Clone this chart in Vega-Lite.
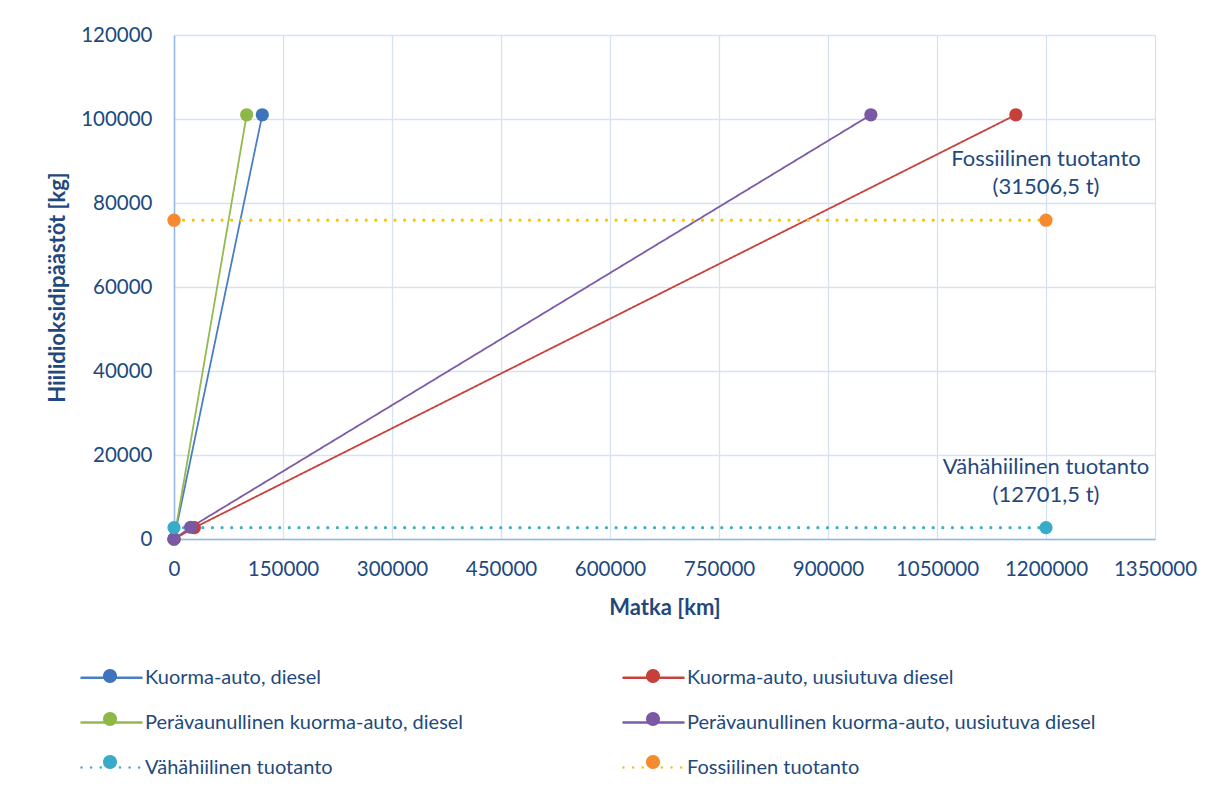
{
  "$schema": "https://vega.github.io/schema/vega-lite/v6.json",
  "width": 981,
  "height": 504,
  "autosize": "none",
  "padding": {"left": 174, "top": 35, "right": 76, "bottom": 257},
  "background": "white",
  "config": {
    "font": "Lato",
    "view": {"stroke": null}
  },
  "datasets": {
    "series": [
      {"series": "Kuorma-auto, diesel", "km": 0, "kg": 0},
      {"series": "Kuorma-auto, diesel", "km": 121500, "kg": 101000},
      {"series": "Kuorma-auto, uusiutuva diesel", "km": 0, "kg": 0},
      {"series": "Kuorma-auto, uusiutuva diesel", "km": 28000, "kg": 2700},
      {"series": "Kuorma-auto, uusiutuva diesel", "km": 1158500, "kg": 101000},
      {"series": "Perävaunullinen kuorma-auto, diesel", "km": 0, "kg": 0},
      {"series": "Perävaunullinen kuorma-auto, diesel", "km": 100000, "kg": 101000},
      {"series": "Perävaunullinen kuorma-auto, uusiutuva diesel", "km": 0, "kg": 0},
      {"series": "Perävaunullinen kuorma-auto, uusiutuva diesel", "km": 23000, "kg": 2800},
      {"series": "Perävaunullinen kuorma-auto, uusiutuva diesel", "km": 959000, "kg": 101000},
      {"series": "Vähähiilinen tuotanto", "km": 0, "kg": 2700},
      {"series": "Vähähiilinen tuotanto", "km": 1200000, "kg": 2700},
      {"series": "Fossiilinen tuotanto", "km": 0, "kg": 75900},
      {"series": "Fossiilinen tuotanto", "km": 1200000, "kg": 75900}
    ],
    "notes": [
      {"km": 1200000, "kg": 75900, "note": "Fossiilinen tuotanto\n(31506,5 t)"},
      {"km": 1200000, "kg": 2700, "note": "Vähähiilinen tuotanto\n(12701,5 t)"}
    ]
  },
  "encoding": {
    "x": {
      "field": "km",
      "type": "quantitative",
      "scale": {"domain": [0, 1350000], "nice": false, "zero": true},
      "axis": {
        "title": "Matka [km]",
        "values": [0, 150000, 300000, 450000, 600000, 750000, 900000, 1050000, 1200000, 1350000],
        "format": "d",
        "ticks": false,
        "labelFlush": false,
        "labelOverlap": false,
        "labelFont": "Lato",
        "labelFontSize": 20.5,
        "labelColor": "#1F497D",
        "labelPadding": 20,
        "domainColor": "#95B7E2",
        "domainWidth": 1.5,
        "gridColor": "#D5E2F3",
        "gridWidth": 1.3,
        "titleFont": "Lato",
        "titleFontSize": 22,
        "titleFontWeight": "bold",
        "titleColor": "#1F497D",
        "titleBaseline": "middle",
        "titleX": 490.5,
        "titleY": 68
      }
    },
    "y": {
      "field": "kg",
      "type": "quantitative",
      "scale": {"domain": [0, 120000], "nice": false, "zero": true},
      "axis": {
        "title": "Hiilidioksidipäästöt [kg]",
        "values": [0, 20000, 40000, 60000, 80000, 100000, 120000],
        "format": "d",
        "ticks": false,
        "labelOverlap": false,
        "labelFont": "Lato",
        "labelFontSize": 20.5,
        "labelColor": "#1F497D",
        "labelPadding": 22,
        "domainColor": "#95B7E2",
        "domainWidth": 1.5,
        "gridColor": "#D5E2F3",
        "gridWidth": 1.3,
        "titleFont": "Lato",
        "titleFontSize": 22,
        "titleFontWeight": "bold",
        "titleColor": "#1F497D",
        "titleBaseline": "middle",
        "titleAngle": -90,
        "titleX": -117,
        "titleY": 252
      }
    }
  },
  "layer": [
    {
      "data": {"name": "series"},
      "mark": {"type": "line", "strokeCap": "round"},
      "encoding": {
        "stroke": {
          "field": "series",
          "type": "nominal",
          "scale": {
            "domain": ["Kuorma-auto, diesel", "Kuorma-auto, uusiutuva diesel", "Perävaunullinen kuorma-auto, diesel", "Perävaunullinen kuorma-auto, uusiutuva diesel", "Vähähiilinen tuotanto", "Fossiilinen tuotanto"],
            "range": ["#4A7EC4", "#C8423C", "#92BA4E", "#7D5CA6", "#3BAFCB", "#FFC000"]
          },
          "legend": {
            "title": null,
            "orient": "none",
            "legendX": -74,
            "legendY": 631,
            "direction": "horizontal",
            "columns": 2,
            "padding": 0,
            "symbolType": "M-3,0L3,0",
            "symbolSize": 400,
            "symbolStrokeWidth": 2.5,
            "labelFont": "Lato",
            "labelFontSize": 20,
            "labelColor": "#1F497D",
            "labelOffset": 22,
            "labelLimit": 800,
            "columnPadding": 154,
            "rowPadding": 23,
            "encode": {"symbols": {"update": {"strokeCap": {"value": "round"}}}}
          }
        },
        "strokeDash": {
          "field": "series",
          "type": "nominal",
          "scale": {
            "domain": ["Kuorma-auto, diesel", "Kuorma-auto, uusiutuva diesel", "Perävaunullinen kuorma-auto, diesel", "Perävaunullinen kuorma-auto, uusiutuva diesel", "Vähähiilinen tuotanto", "Fossiilinen tuotanto"],
            "range": [[1, 0], [1, 0], [1, 0], [1, 0], [0.01, 9.6], [0.01, 9.6]]
          },
          "legend": {
            "title": null,
            "orient": "none",
            "legendX": -74,
            "legendY": 631,
            "direction": "horizontal",
            "columns": 2,
            "padding": 0,
            "symbolType": "M-3,0L3,0",
            "symbolSize": 400,
            "symbolStrokeWidth": 2.5,
            "labelFont": "Lato",
            "labelFontSize": 20,
            "labelColor": "#1F497D",
            "labelOffset": 22,
            "labelLimit": 800,
            "columnPadding": 154,
            "rowPadding": 23
          }
        },
        "strokeWidth": {
          "condition": {"test": "datum.series === 'Vähähiilinen tuotanto' || datum.series === 'Fossiilinen tuotanto'", "value": 3.2},
          "value": 1.8
        }
      }
    },
    {
      "data": {"name": "series"},
      "mark": {"type": "circle", "size": 175, "opacity": 1},
      "encoding": {
        "fill": {
          "field": "series",
          "type": "nominal",
          "sort": ["Kuorma-auto, diesel", "Kuorma-auto, uusiutuva diesel", "Perävaunullinen kuorma-auto, diesel", "Perävaunullinen kuorma-auto, uusiutuva diesel", "Vähähiilinen tuotanto", "Fossiilinen tuotanto"],
          "scale": {"range": ["#3F73BD", "#C63F39", "#8DB747", "#7A58A3", "#37ABC8", "#F58A2E"]},
          "legend": {
            "title": null,
            "orient": "none",
            "legendX": -74,
            "legendY": 631,
            "direction": "horizontal",
            "columns": 2,
            "padding": 0,
            "zindex": 1,
            "symbolType": "M-0.7,0A0.7,0.7,0,1,1,0.7,0A0.7,0.7,0,1,1,-0.7,0Z",
            "symbolSize": 400,
            "symbolStrokeWidth": 0,
            "symbolOpacity": 1,
            "labelExpr": "''",
            "labelFontSize": 20,
            "labelOffset": 22,
            "columnPadding": 501,
            "rowPadding": 23
          }
        }
      }
    },
    {
      "data": {"name": "notes"},
      "mark": {
        "type": "text",
        "align": "center",
        "baseline": "bottom",
        "dy": -49,
        "font": "Lato",
        "fontSize": 22,
        "lineHeight": 28,
        "lineBreak": "\n",
        "color": "#1F497D"
      },
      "encoding": {
        "text": {"field": "note", "type": "nominal"}
      }
    }
  ]
}
